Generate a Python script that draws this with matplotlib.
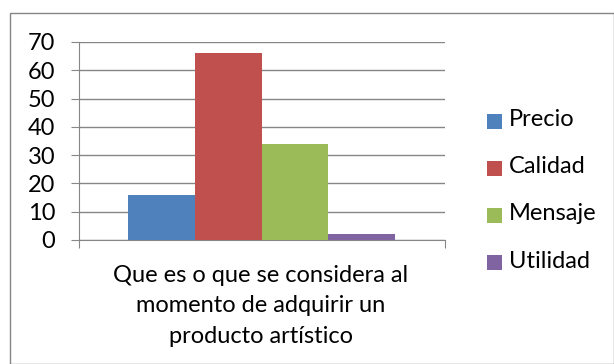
import numpy as np
import matplotlib.pyplot as plt
from matplotlib.patches import Rectangle

## data
series = ['Precio', 'Calidad', 'Mensaje', 'Utilidad']
values = [16, 66, 34, 2]
colors = ['#4F81BD', '#C0504D', '#9BBB59', '#8064A2']
category = 'Que es o que se considera al\nmomento de adquirir un\nproducto artístico'
yticks = [0, 10, 20, 30, 40, 50, 60, 70]

W, H = 614, 364
plt.rcParams['font.family'] = ['Lato', 'DejaVu Sans']
gray = '#868686'
fs = 17

fig = plt.figure(figsize=(W/100, H/100), dpi=100)
## outer frame
fig.patches.append(Rectangle((10/W, 0.5/H), (W-10.5)/W, (H-13.5)/H,
                             transform=fig.transFigure, fill=False,
                             edgecolor=gray, linewidth=1.0))

## plot area (pixels)
x0, x1, ytop, ybot = 79, 445, 42, 240
ax = fig.add_axes([x0/W, 1-ybot/H, (x1-x0)/W, (ybot-ytop)/H])

pos = np.arange(len(series))
for i in range(len(series)):
    ax.bar(pos[i], values[i], width=1.0, color=colors[i], label=series[i], zorder=3)

ax.set_xlim(-1.235, 4.245)
ax.set_ylim(0, 70)
ax.set_yticks(yticks)
ax.set_yticklabels([str(v) for v in yticks], fontsize=fs)
ax.yaxis.grid(True, color=gray, linewidth=1.0, zorder=0)
ax.tick_params(axis='y', direction='out', length=6, color=gray, pad=11)
ax.set_xticks([-1.235, 4.245])
ax.set_xticklabels(['', ''])
ax.tick_params(axis='x', direction='out', length=6, color=gray)
for s in ['top', 'right']:
    ax.spines[s].set_visible(False)
for s in ['left', 'bottom']:
    ax.spines[s].set_color(gray)

## category label
fig.text(261/W, 1-306/H, category, ha='center', va='center',
         fontsize=fs, linespacing=1.55)

## legend
ys = [122, 169, 216, 263]
for i in range(len(series)):
    fig.patches.append(Rectangle((487/W, 1-(ys[i]+7)/H), 15/W, 15/H,
                                 transform=fig.transFigure, facecolor=colors[i],
                                 edgecolor='none'))
    fig.text(509/W, 1-(ys[i]-2)/H, series[i], ha='left', va='center', fontsize=fs)

fig.savefig('out.png', dpi=100)
